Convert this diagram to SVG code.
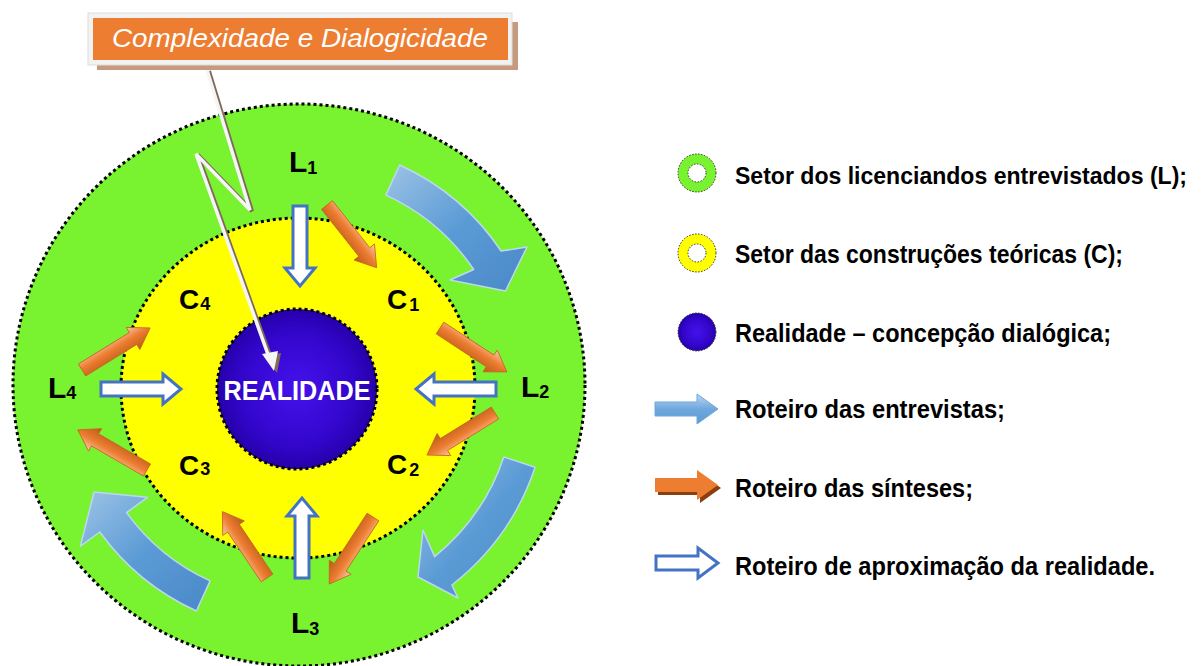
<svg xmlns="http://www.w3.org/2000/svg" xmlns:xlink="http://www.w3.org/1999/xlink" width="1203" height="666" viewBox="0 0 1203 666">
<style>
.dot{stroke:#000;stroke-width:3;stroke-dasharray:3 3;}
.lbl{font-family:"Liberation Sans",Arial,sans-serif;font-weight:bold;fill:#000;}
.big{font-size:30px;}
.mid{font-size:28px;}
.sub{font-size:18px;}
.leg{font-family:"Liberation Sans",Arial,sans-serif;font-weight:bold;font-size:25px;fill:#000;}
.hollow{fill:#fff;stroke:#4472C4;stroke-width:3;stroke-linejoin:miter;}
.curv{fill:url(#gCurv);stroke:#BDD7EE;stroke-width:1.5;stroke-linejoin:round;}
</style>
<defs>
<radialGradient id="gBlue" cx="0.5" cy="0.5" r="0.5">
<stop offset="0" stop-color="#4512EC"/>
<stop offset="0.7" stop-color="#3306CC"/>
<stop offset="1" stop-color="#2600AA"/>
</radialGradient>
<linearGradient id="gOr" x1="0" y1="0" x2="0" y2="1">
<stop offset="0" stop-color="#F8CBAD"/>
<stop offset="0.45" stop-color="#ED7D31"/>
<stop offset="1" stop-color="#B85A18"/>
</linearGradient>
<linearGradient id="gCurv" x1="0" y1="0" x2="1" y2="1">
<stop offset="0" stop-color="#9DC3E6"/>
<stop offset="0.5" stop-color="#5B9BD5"/>
<stop offset="1" stop-color="#4A88C8"/>
</linearGradient>
<linearGradient id="gLeg" x1="0" y1="0" x2="0" y2="1">
<stop offset="0" stop-color="#BDD7EE"/>
<stop offset="0.5" stop-color="#6FA8DC"/>
<stop offset="1" stop-color="#5B9BD5"/>
</linearGradient>
<path id="oarrow" d="M0,-7 L60,-7 L60,-13 L80,0 L60,13 L60,7 L0,7 Z" fill="url(#gOr)" stroke="#C8641E" stroke-width="0.8"/>
<path id="harrow" class="hollow" d="M0,-7 L62,-7 L62,-15 L80,0 L62,15 L62,7 L0,7 Z"/>
</defs>

<g id="setor-L">
<ellipse cx="299" cy="385" rx="286" ry="281" fill="#79F230" class="dot"/>
</g>
<g id="setor-C">
<ellipse cx="298" cy="388" rx="177" ry="170" fill="#FFFF00" class="dot"/>
</g>
<g id="realidade">
<circle cx="297" cy="389" r="80" fill="url(#gBlue)" class="dot"/>
<text x="297" y="400" text-anchor="middle" font-family="'Liberation Sans',Arial,sans-serif" font-weight="bold" font-size="27" fill="#fff" textLength="147" lengthAdjust="spacingAndGlyphs">REALIDADE</text>
</g>

<g id="labels">
<text class="lbl big" x="289" y="172">L<tspan class="sub" dy="2">1</tspan></text>
<text class="lbl big" x="521" y="397">L<tspan class="sub" dy="1">2</tspan></text>
<text class="lbl big" x="291" y="633">L<tspan class="sub" dy="2">3</tspan></text>
<text class="lbl big" x="48" y="398">L<tspan class="sub" dy="1">4</tspan></text>
<text class="lbl mid" x="387" y="309">C<tspan class="sub" dx="2" dy="2">1</tspan></text>
<text class="lbl mid" x="387" y="474">C<tspan class="sub" dx="2" dy="2">2</tspan></text>
<text class="lbl mid" x="179" y="475">C<tspan class="sub" dx="1" dy="0">3</tspan></text>
<text class="lbl mid" x="179" y="309">C<tspan class="sub" dx="1" dy="1">4</tspan></text>
</g>

<g id="connectors">
<g id="curved-arrows">
<path class="curv" d="M399.6,165 A245,245 0 0 1 501.1,251 L527,247 L505.5,291 L450,280 L473.7,269.5 A212,212 0 0 0 385.9,195.1 Z"/>
<path class="curv" d="M535.1,467.3 A250,250 0 0 1 451.9,585 L458,598 L418,577 L423,530 L434.6,556.6 A217,217 0 0 0 503.8,456.9 Z"/>
<path class="curv" d="M196.4,611 A245,245 0 0 1 99.8,532 L80.4,546.1 L94,492 L147.5,497.3 L126.5,512.6 A212,212 0 0 0 210.1,580.9 Z"/>
</g>
<g id="sinteses">
<use xlink:href="#oarrow" transform="translate(327,205) rotate(51.6)"/>
<use xlink:href="#oarrow" transform="translate(440,328) rotate(33.3)"/>
<use xlink:href="#oarrow" transform="translate(495,413) rotate(148.3)"/>
<use xlink:href="#oarrow" transform="translate(373,517) rotate(123.1)"/>
<use xlink:href="#oarrow" transform="translate(267,578) rotate(236.1)"/>
<use xlink:href="#oarrow" transform="translate(147,470) rotate(210.1)"/>
<use xlink:href="#oarrow" transform="translate(82,370) rotate(-31.7)"/>
</g>
<g id="aproximacao">
<use xlink:href="#harrow" transform="translate(300,206) rotate(90)"/>
<use xlink:href="#harrow" transform="translate(496,389) rotate(180)"/>
<use xlink:href="#harrow" transform="translate(101,389)"/>
<use xlink:href="#harrow" transform="translate(302,578) rotate(-90)"/>
</g>
<g id="callout-line">
<polyline points="207,70 250,210 196,154 270,360" fill="none" stroke="#7F6A5A" stroke-width="4" stroke-linejoin="miter" transform="translate(2,1)"/>
<polygon points="275,372 263,355 279,352" fill="#7F6A5A" transform="translate(2,1)"/>
<polyline points="207,70 250,210 196,154 270,360" fill="none" stroke="#F5F5F5" stroke-width="3.5" stroke-linejoin="miter"/>
<polygon points="274,371 262,354 278,351" fill="#F5F5F5"/>
</g>
</g>

<g id="titulo">
<rect x="97" y="22" width="421" height="48" fill="#C59A7E"/>
<rect x="88" y="13" width="424" height="52" fill="#F2F2F2" stroke="#DDDDDD" stroke-width="1"/>
<rect x="93" y="18" width="415" height="42" fill="#ED7D31"/>
<text x="300" y="47" text-anchor="middle" font-family="'Liberation Sans',Arial,sans-serif" font-style="italic" font-size="25" fill="#fff" textLength="376" lengthAdjust="spacingAndGlyphs">Complexidade e Dialogicidade</text>
</g>

<g id="legenda">
<g id="leg-L">
<circle cx="697" cy="173" r="14" fill="none" stroke="#79F230" stroke-width="10"/>
<circle cx="697" cy="173" r="19" fill="none" stroke="#333" stroke-width="1" stroke-dasharray="1.5 1.5"/>
<circle cx="697" cy="173" r="9" fill="#fff" stroke="#333" stroke-width="1" stroke-dasharray="1.5 1.5"/>
<text class="leg" x="735" y="184" font-size="23.5" style="font-size:23.5px" textLength="452" lengthAdjust="spacingAndGlyphs">Setor dos licenciandos entrevistados (L);</text>
</g>
<g id="leg-C">
<circle cx="697" cy="253" r="14" fill="none" stroke="#FFFF00" stroke-width="10"/>
<circle cx="697" cy="253" r="19" fill="none" stroke="#333" stroke-width="1" stroke-dasharray="1.5 1.5"/>
<circle cx="697" cy="253" r="9" fill="#fff" stroke="#333" stroke-width="1" stroke-dasharray="1.5 1.5"/>
<text class="leg" x="735" y="263" textLength="388" lengthAdjust="spacingAndGlyphs">Setor das construções teóricas (C);</text>
</g>
<g id="leg-R">
<circle cx="697" cy="332" r="19" fill="url(#gBlue)" stroke="#333" stroke-width="1" stroke-dasharray="1.5 1.5"/>
<text class="leg" x="735" y="342" textLength="376" lengthAdjust="spacingAndGlyphs">Realidade – concepção dialógica;</text>
</g>
<g id="leg-entrevistas">
<path d="M655,402 H697 V394 L718,409 L697,424 V416 H655 Z" fill="url(#gLeg)" stroke="#6FA8DC" stroke-width="1"/>
<text class="leg" x="735" y="418" textLength="270" lengthAdjust="spacingAndGlyphs">Roteiro das entrevistas;</text>
</g>
<g id="leg-sinteses">
<path d="M658,481 H700 V473 L721,488 L700,503 V495 H658 Z" fill="#8A3F10"/>
<path d="M655,478 H697 V470 L718,485 L697,500 V492 H655 Z" fill="#ED7D31"/>
<text class="leg" x="735" y="497" textLength="238" lengthAdjust="spacingAndGlyphs">Roteiro das sínteses;</text>
</g>
<g id="leg-aproximacao">
<path class="hollow" d="M656,556 H698 V548 L718,563 L698,578 V570 H656 Z"/>
<text class="leg" x="735" y="575" textLength="420" lengthAdjust="spacingAndGlyphs">Roteiro de aproximação da realidade.</text>
</g>
</g>
</svg>
